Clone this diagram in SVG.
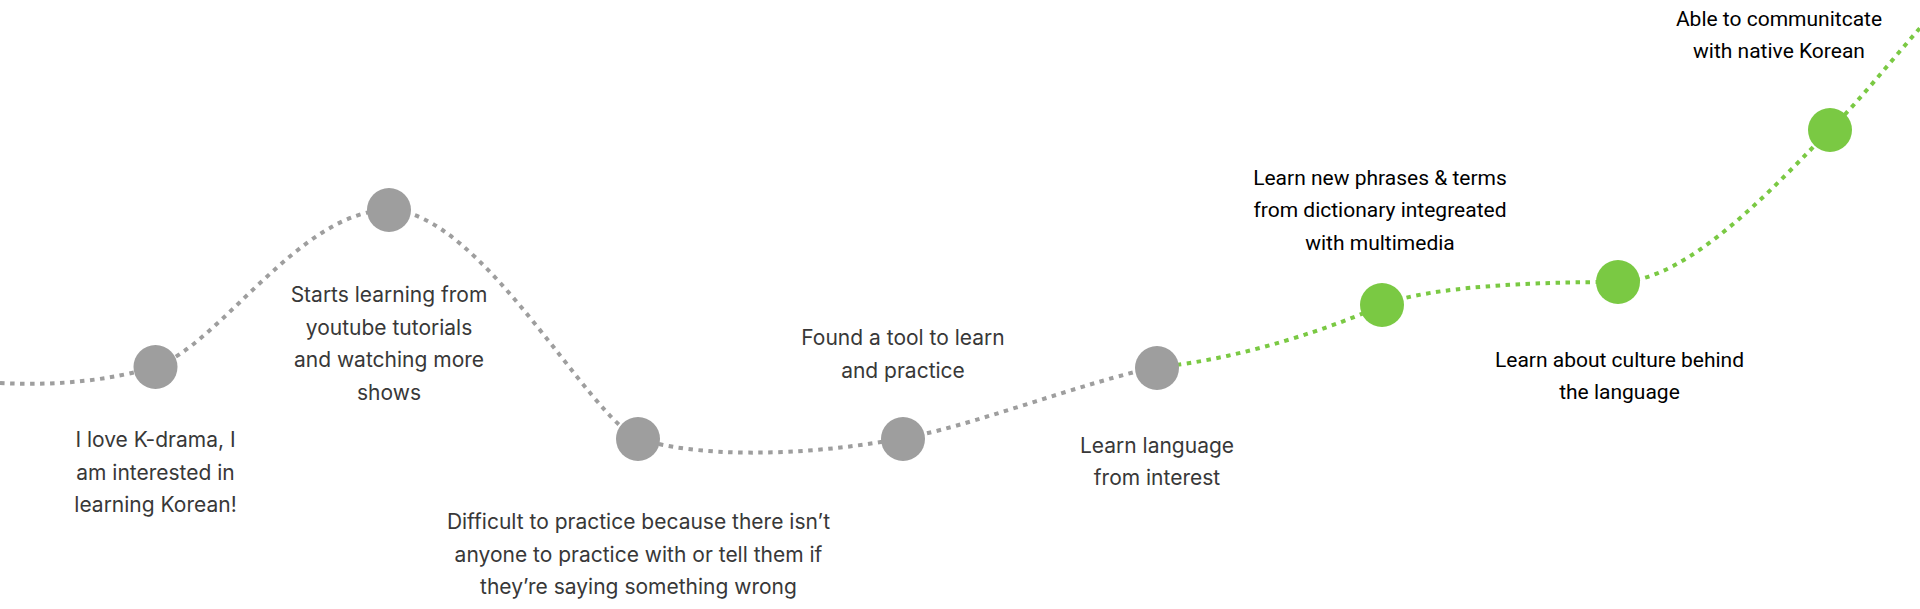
<svg xmlns="http://www.w3.org/2000/svg" width="1920" height="609" viewBox="0 0 1920 609">
<style>
.bg{fill:#ffffff}
.path{fill:none;stroke-width:4;stroke-dasharray:4.5 5.5}
.pg{stroke:#9e9e9e}
.pn{stroke:#7ac943}
.ng{fill:#9e9e9e}
.nn{fill:#7ac943}
.tg{font-family:Inter,"Noto Sans",sans-serif;font-size:21px;fill:#383838;text-anchor:middle}
.tn{font-family:Roboto,"Noto Sans",sans-serif;font-size:21px;fill:#000000;text-anchor:middle}
</style>
<rect class="bg" width="1920" height="609"/>
<g id="connectors">
<path class="path pg" d="M0,383 C60,386 110,380 155,367 C220,345 300,210 389,210 C480,210 590,420 638,438 C690,457 800,458 903,438 C960,430 1090,380 1157,367"/>
<path class="path pn" d="M1157,367 C1240,360 1340,325 1382,305 C1420,290 1500,282 1618,282 C1690,282 1780,180 1830,130 C1860,100 1890,62 1920,28"/>
</g>
<g id="node1"><circle class="ng" cx="155.5" cy="367" r="22"/>
<text class="tg" x="155.5" y="447">I love K-drama, I</text>
<text class="tg" x="155.5" y="480">am interested in</text>
<text class="tg" x="155.5" y="512">learning Korean!</text></g>
<g id="node2"><circle class="ng" cx="389" cy="210" r="22"/>
<text class="tg" x="389" y="302">Starts learning from</text>
<text class="tg" x="389" y="334.5">youtube tutorials</text>
<text class="tg" x="389" y="367">and watching more</text>
<text class="tg" x="389" y="400">shows</text></g>
<g id="node3"><circle class="ng" cx="638" cy="439" r="22"/>
<text class="tg" x="638.5" y="529">Difficult to practice because there isn’t</text>
<text class="tg" x="638.5" y="561.5">anyone to practice with or tell them if</text>
<text class="tg" x="638.5" y="594">they’re saying something wrong</text></g>
<g id="node4"><circle class="ng" cx="903" cy="439" r="22"/>
<text class="tg" x="903" y="345">Found a tool to learn</text>
<text class="tg" x="903" y="378">and practice</text></g>
<g id="node5"><circle class="ng" cx="1157" cy="368" r="22"/>
<text class="tg" x="1157" y="453">Learn language</text>
<text class="tg" x="1157" y="485">from interest</text></g>
<g id="node6"><circle class="nn" cx="1382" cy="305" r="22"/>
<text class="tn" x="1380" y="185">Learn new phrases &amp; terms</text>
<text class="tn" x="1380" y="217">from dictionary integreated</text>
<text class="tn" x="1380" y="250">with multimedia</text></g>
<g id="node7"><circle class="nn" cx="1618" cy="282" r="22"/>
<text class="tn" x="1619.5" y="366.5">Learn about culture behind</text>
<text class="tn" x="1619.5" y="399">the language</text></g>
<g id="node8"><circle class="nn" cx="1830" cy="130" r="22"/>
<text class="tn" x="1779" y="25.5">Able to communitcate</text>
<text class="tn" x="1779" y="57.5">with native Korean</text></g>
</svg>
